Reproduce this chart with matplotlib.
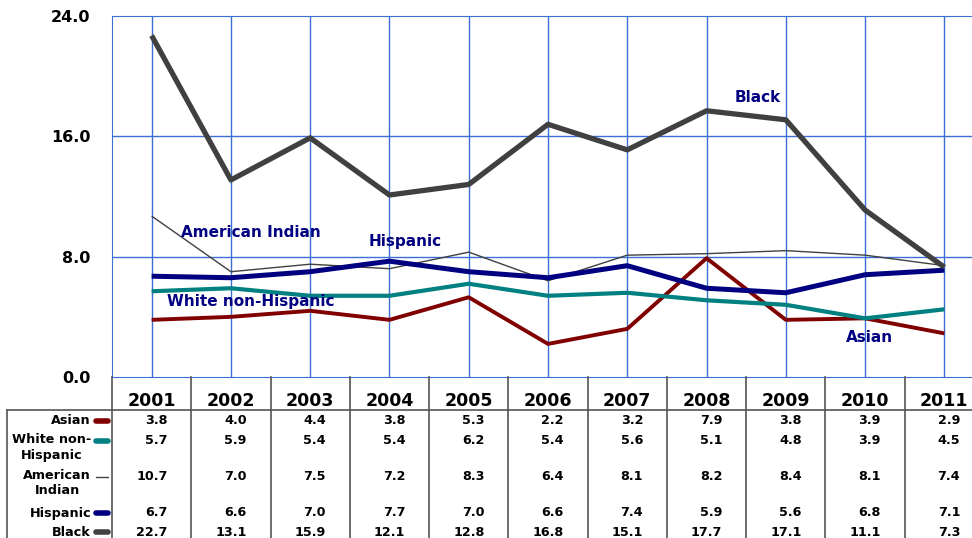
import numpy as np
import matplotlib.pyplot as plt
import matplotlib.transforms as mtransforms

# Dados
anos = ['2001', '2002', '2003', '2004', '2005', '2006', '2007', '2008', '2009', '2010', '2011']
asian = [3.8, 4.0, 4.4, 3.8, 5.3, 2.2, 3.2, 7.9, 3.8, 3.9, 2.9]
white = [5.7, 5.9, 5.4, 5.4, 6.2, 5.4, 5.6, 5.1, 4.8, 3.9, 4.5]
amer_indian = [10.7, 7.0, 7.5, 7.2, 8.3, 6.4, 8.1, 8.2, 8.4, 8.1, 7.4]
hispanic = [6.7, 6.6, 7.0, 7.7, 7.0, 6.6, 7.4, 5.9, 5.6, 6.8, 7.1]
black = [22.7, 13.1, 15.9, 12.1, 12.8, 16.8, 15.1, 17.7, 17.1, 11.1, 7.3]

series = [
    ('Asian', asian, '#800000', 2.8),
    ('White non-\nHispanic', white, '#008080', 3.0),
    ('American\nIndian', amer_indian, '#404040', 1.0),
    ('Hispanic', hispanic, '#000080', 3.6),
    ('Black', black, '#404040', 3.8),
]

W, H = 972, 538
fig = plt.figure(figsize=(W / 100, H / 100), dpi=100)
fig.patch.set_facecolor('white')

x = np.arange(len(anos))
left, right = 112 / W, 984 / W
ax = fig.add_axes([left, (H - 377) / H, right - left, (377 - 16) / H])

grid_c = '#3b6fd6'
for nome, vals, cor, lw in series:
    ax.plot(x, vals, color=cor, lw=lw, solid_capstyle='butt', zorder=3)

ax.set_xlim(-0.5, len(anos) - 0.5)
ax.set_ylim(0, 24)
ax.set_yticks([0, 8, 16, 24])
ax.set_yticklabels(['0.0', '8.0', '16.0', '24.0'], fontsize=11.5, fontweight='bold')
ax.tick_params(axis='y', length=0, pad=15.5)
ax.set_xticks([])
for v in x:
    ax.axvline(v, color=grid_c, lw=1, zorder=1)
for yv in [8, 16]:
    ax.axhline(yv, color=grid_c, lw=1, zorder=1)
for s in ax.spines.values():
    s.set_color(grid_c)
ax.spines['right'].set_visible(False)

# Rótulos dentro do gráfico
lbl = dict(color='#000080', fontsize=11, fontweight='bold', ha='center', va='center')
ax.text(7.64, 18.6, 'Black', **lbl)
ax.text(1.25, 9.6, 'American Indian', **lbl)
ax.text(3.2, 9.0, 'Hispanic', **lbl)
ax.text(1.25, 5.0, 'White non-Hispanic', **lbl)
ax.text(9.06, 2.6, 'Asian', **lbl)

# Tabela de dados
tab = fig.add_axes([left, 0, right - left, (H - 377) / H])
tab.set_xlim(-0.5, len(anos) - 0.5)
tab.set_ylim(H - 377, 0)
tab.axis('off')

lc = '#555555'
for b in np.arange(len(anos) + 1) - 0.5:
    tab.plot([b, b], [0, H - 377], color=lc, lw=1.2, clip_on=False)
for i, a in enumerate(anos):
    tab.text(i, 24, a, ha='center', va='center', fontsize=12.5, fontweight='bold')

trans = mtransforms.blended_transform_factory(fig.transFigure, tab.transData)
tab.plot([7 / W, right], [33, 33], color=lc, lw=1.2, transform=trans, clip_on=False)
tab.plot([7 / W, 7 / W], [33, H - 377], color=lc, lw=1.2, transform=trans, clip_on=False)

linhas_y = [44, 64, 100, 136, 155]
for (nome, vals, cor, lw), yy in zip(series, linhas_y):
    if '\n' in nome:
        tab.text(91 / W, yy - 8, nome, transform=trans, ha='right', va='top',
                 multialignment='center', fontsize=9.2, fontweight='bold', linespacing=1.25)
    else:
        tab.text(91 / W, yy, nome, transform=trans, ha='right', va='center',
                 fontsize=9.2, fontweight='bold')
    tab.plot([96 / W, 108 / W], [yy, yy], color=cor, lw=4 if lw > 1.5 else 1.0,
             solid_capstyle='round', transform=trans, clip_on=False)
    for i, v in enumerate(vals):
        tab.text(i + 0.2, yy, f'{v:.1f}', ha='right', va='center',
                 fontsize=9.2, fontweight='bold')

fig.savefig('out.png', dpi=100)
